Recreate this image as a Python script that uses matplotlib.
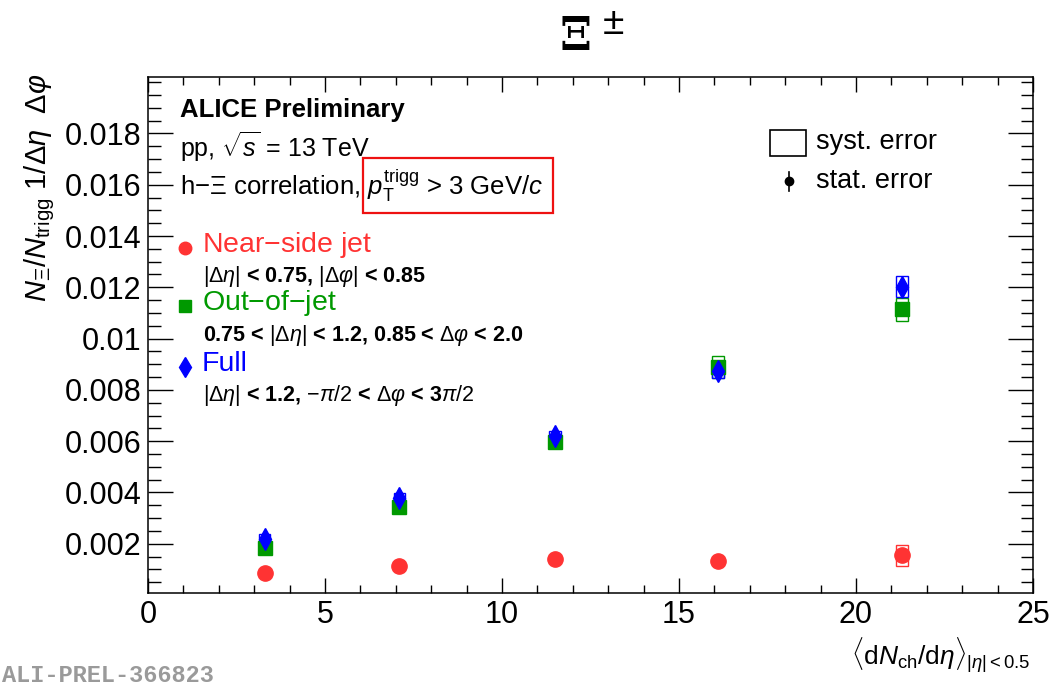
import matplotlib
matplotlib.use('Agg')
import matplotlib.pyplot as plt
from matplotlib.patches import Rectangle
from matplotlib.ticker import MultipleLocator

# Multiplicité (abscisses) et rendements par région
mult = [3.3, 7.1, 11.5, 16.1, 21.3]

near_val = [0.00087, 0.00114, 0.00141, 0.00134, 0.00155]
near_stat = [0.00004, 0.00004, 0.00005, 0.00005, 0.00008]
near_syst = [0.00005, 0.00006, 0.00008, 0.0001, 0.0004]

out_val = [0.00182, 0.00345, 0.00598, 0.0089, 0.01114]
out_stat = [0.00005, 0.00006, 0.00008, 0.0001, 0.00012]
out_syst = [0.0001, 0.00016, 0.00025, 0.00042, 0.00045]

full_val = [0.00218, 0.00378, 0.0062, 0.00875, 0.01203]
full_stat = [0.00005, 0.00006, 0.00008, 0.0001, 0.00012]
full_syst = [0.0002, 0.0002, 0.0002, 0.0003, 0.0004]

c_near = '#ff3333'
c_out = '#009900'
c_full = '#0000ff'

plt.rcParams['font.family'] = 'Liberation Sans'
plt.rcParams['mathtext.fontset'] = 'custom'
plt.rcParams['mathtext.rm'] = 'Liberation Sans'
plt.rcParams['mathtext.it'] = 'Liberation Sans:italic'
plt.rcParams['mathtext.bf'] = 'Liberation Sans:bold'

W, H = 1064, 685
fig = plt.figure(figsize=(W / 100, H / 100), dpi=100)
ax = fig.add_axes([148 / W, 1 - 593 / H, (1033 - 148) / W, (593 - 77) / H])


def fx(px):
    return px / W


def fy(py):
    return 1 - py / H


def draw_series(x, y, stat, syst, color, marker, ms):
    for xi, yi, si in zip(x, y, syst):
        ax.add_patch(Rectangle((xi - 0.16, yi - si), 0.32, 2 * si, fill=False,
                               edgecolor=color, lw=1.0, zorder=3))
    ax.errorbar(x, y, yerr=stat, fmt=marker, color=color, ms=ms, mec=color,
                elinewidth=1.0, capsize=0, zorder=4)


draw_series(mult, near_val, near_stat, near_syst, c_near, 'o', 11)
draw_series(mult, out_val, out_stat, out_syst, c_out, 's', 9.5)
draw_series(mult, full_val, full_stat, full_syst, c_full, 'd', 11)

ax.set_xlim(0, 25)
ax.set_ylim(0.00008, 0.0202)
ax.xaxis.set_major_locator(MultipleLocator(5))
ax.xaxis.set_minor_locator(MultipleLocator(1))
ax.yaxis.set_minor_locator(MultipleLocator(0.0005))
ax.set_yticks([0.002, 0.004, 0.006, 0.008, 0.01, 0.012, 0.014, 0.016, 0.018])
ax.set_yticklabels(['0.002', '0.004', '0.006', '0.008', '0.01', '0.012', '0.014', '0.016', '0.018'])
ax.tick_params(axis='both', which='both', direction='in', top=True, right=True, labelsize=22)
ax.tick_params(axis='x', which='major', length=11, width=1, pad=5)
ax.tick_params(axis='x', which='minor', length=6, width=1)
ax.tick_params(axis='y', which='major', length=18, width=1, pad=5)
ax.tick_params(axis='y', which='minor', length=9, width=1)
for s in ax.spines.values():
    s.set_linewidth(1.1)

# Titres
fig.text(fx(576), fy(37), 'Ξ', ha='center', va='center', fontsize=33,
         family='DejaVu Serif', fontweight='bold')
fig.text(fx(613), fy(24), '±', ha='center', va='center', fontsize=28)
fig.text(fx(40), fy(74), r'$N_{\Xi}/N_{\rm trigg}\ 1/\Delta\eta\ \ \Delta\varphi$',
         rotation=90, ha='center', va='top', fontsize=21)
fig.text(fx(1030), fy(655), r'$\langle{\rm d}N_{\rm ch}/{\rm d}\eta\rangle_{|\eta|<0.5}$',
         ha='right', va='center', fontsize=19)

# Textes ALICE
fig.text(fx(180), fy(110), 'ALICE Preliminary', fontweight='bold', fontsize=18.5, va='center')
fig.text(fx(180), fy(147), r'pp, $\sqrt{s}$ = 13 TeV', fontsize=18, va='center')
fig.text(fx(180), fy(186), r'h$-\Xi$ correlation, $p_{\rm T}^{\rm trigg}$ > 3 GeV/$c$',
         fontsize=18.5, va='center')
fig.patches.append(Rectangle((fx(363), fy(213)), (553 - 363) / W, (213 - 158) / H,
                             transform=fig.transFigure, fill=False, edgecolor='#ee1111', lw=1.6))

# Légende des régions
leg = [
    (248, 'o', c_near, 'Near$-$side jet', 277, r'$|\Delta\eta|$ < 0.75, $|\Delta\varphi|$ < 0.85'),
    (306, 's', c_out, 'Out$-$of$-$jet', 336, r'0.75 < $|\Delta\eta|$ < 1.2, 0.85 < $\Delta\varphi$ < 2.0'),
    (367, 'd', c_full, 'Full', 396, r'$|\Delta\eta|$ < 1.2, $-\pi/2$ < $\Delta\varphi$ < 3$\pi/2$'),
]
for ym, mk, col, lab, ys, sub in leg:
    fig.add_artist(plt.Line2D([fx(185)], [fy(ym)], marker=mk, color=col, ms=9 if mk != 'd' else 10,
                              transform=fig.transFigure))
    fig.text(fx(202), fy(ym - 3), lab, color=col, fontsize=20.5, va='center')
    fig.text(fx(203), fy(ys), sub, fontsize=15.5, va='center', fontweight='bold')

fig.patches.append(Rectangle((fx(770), fy(156)), 36 / W, 26 / H, transform=fig.transFigure,
                             fill=False, edgecolor='black', lw=1.2))
fig.text(fx(816), fy(142), 'syst. error', fontsize=19.5, va='center')
fig.add_artist(plt.Line2D([fx(789)], [fy(181)], marker='o', color='black', ms=6,
                          transform=fig.transFigure))
fig.add_artist(plt.Line2D([fx(789), fx(789)], [fy(172), fy(191)], color='black', lw=1.2,
                          transform=fig.transFigure))
fig.text(fx(816), fy(181), 'stat. error', fontsize=19.5, va='center')

fig.text(fx(2), fy(675), 'ALI-PREL-366823', fontsize=17, color='#9a9a9a',
         family='Liberation Mono', fontweight='bold', va='center')

fig.savefig('out.png', dpi=100)
